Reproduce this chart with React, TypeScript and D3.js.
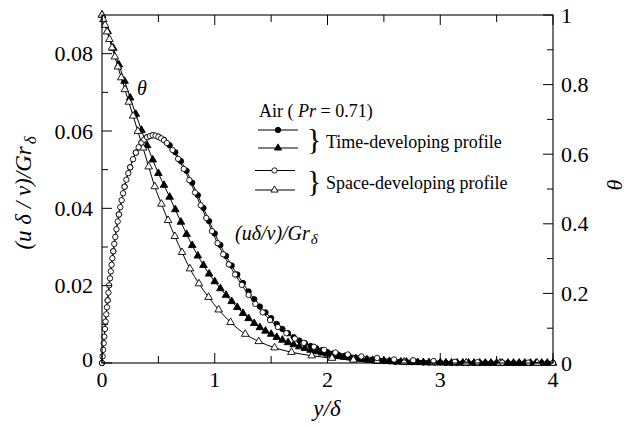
import React from "react";
import * as d3 from "d3";

const W = 637;
const H = 428;

// Space-developing solution: velocity on its stretched y/δ grid
const etaSpaceU = [
  0, 0.005, 0.01, 0.015, 0.02, 0.026, 0.032, 0.038, 0.044, 0.05, 0.057, 0.064, 0.071, 0.078, 0.085,
  0.092, 0.1, 0.109, 0.118, 0.128, 0.139, 0.15, 0.162, 0.174, 0.187, 0.2, 0.216, 0.233, 0.25, 0.275,
  0.3, 0.325, 0.35, 0.375, 0.4, 0.425, 0.45, 0.475, 0.5, 0.525, 0.55, 0.575, 0.625, 0.675, 0.725,
  0.775, 0.825, 0.875, 0.925, 0.975, 1.025, 1.075, 1.125, 1.18, 1.24, 1.3, 1.36, 1.425, 1.49, 1.56,
  1.635, 1.71, 1.79, 1.88, 1.97, 2.07, 2.18, 2.3, 2.44, 2.59, 2.76, 2.94, 3.13, 3.33, 3.55, 3.78, 4.0,
];
const uSpace = [
  0, 0.0017, 0.0034, 0.0051, 0.0068, 0.0088, 0.0107, 0.0126, 0.0144, 0.0162, 0.0182, 0.0201, 0.0219,
  0.0237, 0.0254, 0.0271, 0.0289, 0.0308, 0.0326, 0.0346, 0.0366, 0.0384, 0.0403, 0.0421, 0.0439,
  0.0456, 0.0474, 0.0491, 0.0506, 0.0527, 0.0544, 0.0558, 0.057, 0.0578, 0.0584, 0.0587, 0.0589,
  0.0588, 0.0585, 0.0581, 0.0576, 0.0569, 0.0551, 0.0528, 0.0502, 0.0473, 0.0441, 0.0408, 0.0375,
  0.0341, 0.031, 0.0281, 0.0255, 0.0229, 0.0202, 0.0176, 0.0153, 0.0131, 0.0111, 0.0093, 0.0077,
  0.0063, 0.0052, 0.0042, 0.0034, 0.0027, 0.0022, 0.0017, 0.0013, 0.0009, 0.0007, 0.0005, 0.0003,
  0.0002, 0.0001, 0.0001, 0,
];

// Space-developing solution: temperature on its own grid
const etaSpaceT = [
  0, 0.012, 0.027, 0.045, 0.066, 0.089, 0.114, 0.141, 0.171, 0.203, 0.238, 0.276, 0.318, 0.364,
  0.414, 0.468, 0.527, 0.586, 0.646, 0.71, 0.78, 0.86, 0.945, 1.035, 1.14, 1.27, 1.39, 1.53, 1.68,
  1.86, 2.04, 2.23, 2.44, 2.68, 2.94, 3.23, 3.53, 3.86,
];
const thetaSpace = [
  1, 0.987, 0.971, 0.952, 0.93, 0.906, 0.88, 0.851, 0.82, 0.786, 0.75, 0.71, 0.666, 0.618, 0.564,
  0.507, 0.457, 0.41, 0.364, 0.318, 0.271, 0.228, 0.189, 0.153, 0.117, 0.083, 0.062, 0.044, 0.031,
  0.021, 0.014, 0.009, 0.005, 0.003, 0.0015, 0.0007, 0.0003, 0.0001,
];

// Time-developing solution on a uniform y/δ grid
const etaTime = [
  0, 0.05, 0.1, 0.15, 0.2, 0.25, 0.3, 0.35, 0.4, 0.45, 0.5, 0.55, 0.6, 0.65, 0.7, 0.75, 0.8, 0.85,
  0.9, 0.95, 1, 1.05, 1.1, 1.15, 1.2, 1.25, 1.3, 1.35, 1.4, 1.45, 1.5, 1.55, 1.6, 1.65, 1.7, 1.75,
  1.8, 1.85, 1.9, 1.95, 2, 2.05, 2.1, 2.15, 2.2, 2.25, 2.3, 2.35, 2.4, 2.45, 2.5, 2.55, 2.6, 2.65,
  2.7, 2.75, 2.8, 2.85, 2.9, 2.95, 3, 3.05, 3.1, 3.15, 3.2, 3.25, 3.3, 3.35, 3.4, 3.45, 3.5, 3.55,
  3.6, 3.65, 3.7, 3.75, 3.8, 3.85, 3.9, 3.95, 4,
];
const uTime = [
  0, 0.0162, 0.0289, 0.0384, 0.0456, 0.0506, 0.0544, 0.057, 0.0584, 0.0589,
  0.0585, 0.0577, 0.0563, 0.0545, 0.0522, 0.0497, 0.0466, 0.0434, 0.0401, 0.0367,
  0.0335, 0.0305, 0.0277, 0.0252, 0.0229, 0.0207, 0.0185, 0.0165, 0.0146, 0.0131,
  0.0116, 0.0101, 0.0088, 0.0077, 0.0067, 0.0058, 0.0051, 0.0044, 0.0038, 0.0033,
  0.0028, 0.0024, 0.002, 0.0017, 0.0014, 0.0012, 0.001, 0.0008, 0.0007, 0.0006,
  0.0005, 0.0004, 0.0003, 0.0003, 0.0002, 0.0002, 0.0002, 0.0001, 0.0001, 0.0001,
  0.0001, 0, 0, 0, 0, 0, 0, 0, 0, 0,
  0, 0, 0, 0, 0, 0, 0, 0, 0, 0,
  0,
];
const thetaTime = [
  1, 0.953, 0.905, 0.857, 0.81, 0.762, 0.715, 0.669, 0.625, 0.584,
  0.545, 0.511, 0.477, 0.441, 0.405, 0.37, 0.338, 0.308, 0.281, 0.256,
  0.234, 0.214, 0.195, 0.177, 0.16, 0.143, 0.128, 0.114, 0.102, 0.092,
  0.083, 0.074, 0.066, 0.059, 0.053, 0.047, 0.042, 0.037, 0.033, 0.029,
  0.026, 0.023, 0.02, 0.017, 0.015, 0.013, 0.011, 0.0095, 0.008, 0.007,
  0.006, 0.005, 0.004, 0.0035, 0.003, 0.0025, 0.002, 0.0017, 0.0014, 0.0012,
  0.001, 0.0008, 0.0006, 0.0005, 0.0004, 0.0003, 0.0002, 0.0002, 0.0001, 0.0001,
  0.0001, 0, 0, 0, 0, 0, 0, 0, 0, 0,
  0,
];

// Axis ticks
const xMajor = [0, 1, 2, 3, 4];
const xMinor = [0.5, 1.5, 2.5, 3.5];
const leftMajor = [0, 0.02, 0.04, 0.06, 0.08];
const leftMajorLabels = ["0", "0.02", "0.04", "0.06", "0.08"];
const leftMinor = [0.01, 0.03, 0.05, 0.07];
const rightMajor = [0, 0.2, 0.4, 0.6, 0.8, 1];
const rightMajorLabels = ["0", "0.2", "0.4", "0.6", "0.8", "1"];
const rightMinor = [0.1, 0.3, 0.5, 0.7, 0.9];

const FONT = "'Liberation Serif', 'Times New Roman', serif";

type Pt = [number, number];
const zip = (a: number[], b: number[]): Pt[] => a.map((v, i) => [v, b[i]]);

export default function App() {
  const x = d3.scaleLinear().domain([0, 4]).range([102, 553]);
  const yU = d3.scaleLinear().domain([0, 0.09]).range([363, 15]);
  const yT = d3.scaleLinear().domain([0, 1]).range([363, 15]);

  const lineU = d3
    .line<Pt>()
    .x((d) => x(d[0]))
    .y((d) => yU(d[1]))
    .curve(d3.curveMonotoneX);
  const lineT = d3
    .line<Pt>()
    .x((d) => x(d[0]))
    .y((d) => yT(d[1]))
    .curve(d3.curveMonotoneX);

  const triPath = d3.symbol().type(d3.symbolTriangle).size(25)() as string;
  const triLegend = d3.symbol().type(d3.symbolTriangle).size(22)() as string;
  const R = 2.7;

  const timeU = zip(etaTime, uTime);
  const timeT = zip(etaTime, thetaTime);
  const spaceU = zip(etaSpaceU, uSpace);
  const spaceT = zip(etaSpaceT, thetaSpace);

  const [x0, x1] = x.range();
  const [yb, yt] = yU.range();

  const circles = (pts: Pt[], filled: boolean, key: string) =>
    pts.map((d, i) => (
      <circle
        key={key + i}
        cx={x(d[0])}
        cy={yU(d[1])}
        r={R}
        fill={filled ? "#000" : "#fff"}
        stroke="#000"
        strokeWidth={0.9}
      />
    ));
  const triangles = (pts: Pt[], filled: boolean, key: string) =>
    pts.map((d, i) => (
      <path
        key={key + i}
        d={triPath}
        transform={`translate(${x(d[0])},${yT(d[1])})`}
        fill={filled ? "#000" : "#fff"}
        stroke="#000"
        strokeWidth={0.9}
      />
    ));

  return (
    <svg
      width={W}
      height={H}
      style={{ position: "absolute", left: 0, top: 0, background: "#fff" }}
      fontFamily={FONT}
    >
      <rect width={W} height={H} fill="#fff" />

      {/* time-developing profiles */}
      <path d={lineT(timeT) as string} fill="none" stroke="#000" strokeWidth={1} />
      {triangles(timeT, true, "tt")}
      <path d={lineU(timeU) as string} fill="none" stroke="#000" strokeWidth={1} />
      {circles(timeU, true, "tu")}

      {/* space-developing profiles */}
      <path d={lineT(spaceT) as string} fill="none" stroke="#000" strokeWidth={1} />
      {triangles(spaceT, false, "st")}
      <path d={lineU(spaceU) as string} fill="none" stroke="#000" strokeWidth={1} />
      {circles(spaceU, false, "su")}

      {/* frame */}
      <rect x={x0} y={yt} width={x1 - x0} height={yb - yt} fill="none" stroke="#000" strokeWidth={1.1} />

      {/* x ticks, bottom and top */}
      {xMajor.map((v) => (
        <g key={"xm" + v}>
          <line x1={x(v)} x2={x(v)} y1={yb} y2={yb - 10} stroke="#000" strokeWidth={1} />
          <line x1={x(v)} x2={x(v)} y1={yt} y2={yt + 10} stroke="#000" strokeWidth={1} />
          <text x={x(v)} y={387} textAnchor="middle" fontSize={22}>
            {v}
          </text>
        </g>
      ))}
      {xMinor.map((v) => (
        <g key={"xn" + v}>
          <line x1={x(v)} x2={x(v)} y1={yb} y2={yb - 7} stroke="#000" strokeWidth={1} />
          <line x1={x(v)} x2={x(v)} y1={yt} y2={yt + 7} stroke="#000" strokeWidth={1} />
        </g>
      ))}

      {/* left axis */}
      {leftMajor.map((v, i) => (
        <g key={"lm" + v}>
          <line x1={x0} x2={x0 + 10} y1={yU(v)} y2={yU(v)} stroke="#000" strokeWidth={1} />
          <text x={93} y={yU(v) + (i === 0 ? 3.5 : 7.5)} textAnchor="end" fontSize={22}>
            {leftMajorLabels[i]}
          </text>
        </g>
      ))}
      {leftMinor.map((v) => (
        <line key={"ln" + v} x1={x0} x2={x0 + 6} y1={yU(v)} y2={yU(v)} stroke="#000" strokeWidth={1} />
      ))}

      {/* right axis */}
      {rightMajor.map((v, i) => (
        <g key={"rm" + v}>
          <line x1={x1} x2={x1 - 10} y1={yT(v)} y2={yT(v)} stroke="#000" strokeWidth={1} />
          <text x={561} y={yT(v) + 7.5} textAnchor="start" fontSize={22}>
            {rightMajorLabels[i]}
          </text>
        </g>
      ))}
      {rightMinor.map((v) => (
        <line key={"rn" + v} x1={x1} x2={x1 - 6} y1={yT(v)} y2={yT(v)} stroke="#000" strokeWidth={1} />
      ))}

      {/* axis titles */}
      <text transform="translate(31,193) rotate(-90)" textAnchor="middle" fontSize={23} fontStyle="italic">
        (u δ / ν)/Gr
        <tspan fontSize={17} dx={2} dy={5}>
          δ
        </tspan>
      </text>
      <text transform="translate(622,185) rotate(-90)" textAnchor="middle" fontSize={22} fontStyle="italic">
        θ
      </text>
      <text x={327} y={416} textAnchor="middle" fontSize={23} fontStyle="italic">
        y/δ
      </text>

      {/* curve annotations */}
      <text x={137} y={95} fontSize={20} fontStyle="italic">
        θ
      </text>
      <text x={235} y={240} fontSize={20} fontStyle="italic">
        (uδ/ν)/Gr
        <tspan fontSize={15} dx={1} dy={4}>
          δ
        </tspan>
      </text>

      {/* legend */}
      <text x={259} y={117} fontSize={18}>
        Air ( <tspan fontStyle="italic">Pr</tspan> = 0.71)
      </text>
      <line x1={258} x2={298} y1={130} y2={130} stroke="#000" strokeWidth={1.2} />
      <circle cx={278} cy={130} r={R} fill="#000" stroke="#000" strokeWidth={0.9} />
      <line x1={258} x2={298} y1={148} y2={148} stroke="#000" strokeWidth={1.2} />
      <path d={triLegend} transform="translate(278,148)" fill="#000" stroke="#000" strokeWidth={0.9} />
      <text x={307} y={148.5} fontSize={30}>
        {"}"}
      </text>
      <text x={326} y={148} fontSize={18}>
        Time-developing profile
      </text>

      <line x1={255} x2={295} y1={170.5} y2={170.5} stroke="#000" strokeWidth={1.2} />
      <circle cx={274.5} cy={170.5} r={R} fill="#fff" stroke="#000" strokeWidth={0.9} />
      <line x1={255} x2={295} y1={190} y2={190} stroke="#000" strokeWidth={1.2} />
      <path d={triLegend} transform="translate(274.5,190)" fill="#fff" stroke="#000" strokeWidth={0.9} />
      <text x={307} y={190.5} fontSize={30}>
        {"}"}
      </text>
      <text x={326} y={189} fontSize={18}>
        Space-developing profile
      </text>
    </svg>
  );
}
